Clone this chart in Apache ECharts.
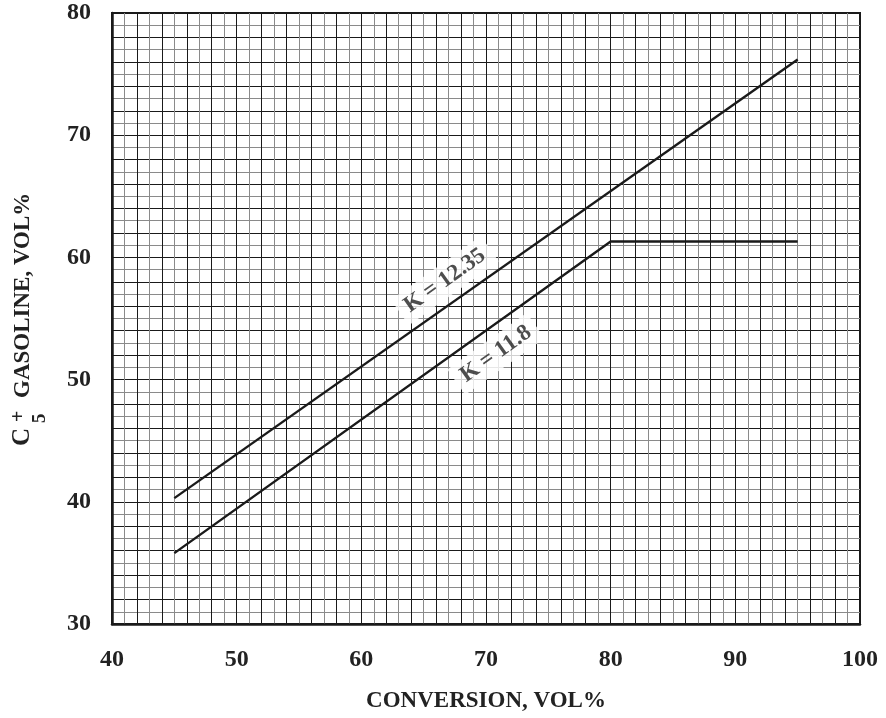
<!DOCTYPE html>
<html>
<head>
<meta charset="utf-8">
<script src="https://cdn.jsdelivr.net/npm/echarts@6/dist/echarts.min.js"></script>
<style>html,body{margin:0;padding:0;background:#fff}#c{width:886px;height:718px}</style>
</head>
<body>
<div id="c"></div>
<script>
// ---- data ----
const xTickLabels = [40, 50, 60, 70, 80, 90, 100];
const yTickLabels = [30, 40, 50, 60, 70, 80];
const k1235X = [45, 95];
const k1235Y = [40.3, 76.2];
const k118X = [45, 80, 95];
const k118Y = [35.8, 61.3, 61.3];
const labelNames = ['K = 12.35', 'K = 11.8'];
const labelX = [66.7, 70.8];
const labelY = [58.1, 52.1];

const chart = echarts.init(document.getElementById('c'), null, {renderer: 'canvas'});
const FONT = '"Liberation Serif", "DejaVu Serif", serif';
const pair = (xs, ys) => xs.map((x, i) => [x, ys[i]]);

chart.setOption({
  animation: false,
  backgroundColor: '#fff',
  grid: {left: 112, right: 26, top: 13, bottom: 86, show: true, borderColor: '#1a1a1a', borderWidth: 2},
  xAxis: {
    type: 'value', min: 40, max: 100, interval: 1,
    axisLine: {show: true, lineStyle: {color: '#1a1a1a', width: 2.5}},
    axisTick: {show: false},
    axisLabel: {
      margin: 24, color: '#222', fontFamily: FONT, fontWeight: 'bold', fontSize: 24,
      formatter: v => xTickLabels.includes(v) ? String(v) : ''
    },
    splitLine: {show: true, lineStyle: {color: ['#1a1a1a', '#8a8a8a'], width: 1}},
    name: 'CONVERSION, VOL%', nameLocation: 'middle', nameGap: 66,
    nameTextStyle: {color: '#222', fontFamily: FONT, fontWeight: 'bold', fontSize: 23}
  },
  yAxis: {
    type: 'value', min: 30, max: 80, interval: 1,
    axisLine: {show: true, lineStyle: {color: '#1a1a1a', width: 2.5}},
    axisTick: {show: false},
    axisLabel: {
      margin: 21, color: '#222', fontFamily: FONT, fontWeight: 'bold', fontSize: 24,
      formatter: v => yTickLabels.includes(v) ? String(v) : ''
    },
    splitLine: {show: true, lineStyle: {color: ['#1a1a1a', '#8a8a8a'], width: 1}}
  },
  graphic: [{
    type: 'group', x: 35, y: 446, rotation: Math.PI / 2, silent: true,
    children: [
      {type: 'text', x: 0, y: 0, style: {text: 'C', font: 'bold 25px ' + FONT, fill: '#222', align: 'left', verticalAlign: 'bottom'}},
      {type: 'text', x: 24, y: -16, style: {text: '+', font: 'bold 20px ' + FONT, fill: '#222', align: 'left', verticalAlign: 'middle'}},
      {type: 'text', x: 23, y: 5, style: {text: '5', font: 'bold 19px ' + FONT, fill: '#222', align: 'left', verticalAlign: 'middle'}},
      {type: 'text', x: 48, y: 0, style: {text: 'GASOLINE, VOL%', font: 'bold 23px ' + FONT, fill: '#222', align: 'left', verticalAlign: 'bottom'}}
    ]
  }],
  series: [
    {type: 'line', data: pair(k1235X, k1235Y), symbol: 'none', lineStyle: {color: '#1a1a1a', width: 2.4}, z: 3},
    {type: 'line', data: pair(k118X, k118Y), symbol: 'none', lineStyle: {color: '#1a1a1a', width: 2.4}, z: 3},
    {
      type: 'scatter', symbolSize: 0, z: 5,
      data: labelNames.map((n, i) => ({name: n, value: [labelX[i], labelY[i]]})),
      label: {
        show: true, position: 'inside', formatter: p => p.name, rotate: 35.5,
        fontFamily: FONT, fontSize: 23, fontWeight: 'bold', color: '#222',
        backgroundColor: '#fff', padding: [4, 8]
      }
    }
  ]
});
</script>
</body>
</html>
